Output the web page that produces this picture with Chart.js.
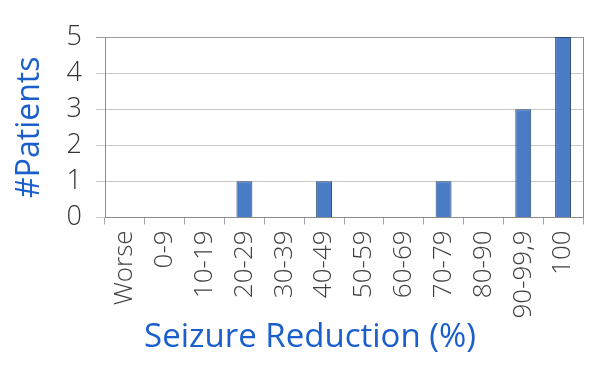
<!DOCTYPE html>
<html>
<head>
<meta charset="utf-8">
<script src="https://cdn.jsdelivr.net/npm/chart.js@4.4.1/dist/chart.umd.min.js"></script>
<style>
  html, body { margin: 0; padding: 0; background: #fff; }
  canvas { display: block; }
</style>
</head>
<body>
<canvas id="chart" width="614" height="372"></canvas>
<script>
const categories = ["Worse", "0-9", "10-19", "20-29", "30-39", "40-49", "50-59", "60-69", "70-79", "80-90", "90-99,9", "100"];
const patients = [0, 0, 0, 1, 0, 1, 0, 0, 1, 0, 3, 5];
const yTicks = [0, 1, 2, 3, 4, 5];

const blue = "#1a5fcc";
const font = "'Open Sans', 'DejaVu Sans', sans-serif";

new Chart(document.getElementById("chart"), {
    type: "bar",
    data: {
        labels: categories,
        datasets: [{
            label: "#Patients",
            data: patients,
            backgroundColor: "#4a7cc6",
            borderColor: "#2f4a72",
            borderWidth: 1,
            barPercentage: 0.4,
            categoryPercentage: 1
        }]
    },
    options: {
        responsive: false,
        animation: false,
        layout: { padding: { top: 37, right: 0, left: 6, bottom: 0 } },
        plugins: {
            legend: { display: false },
            tooltip: { enabled: false },
            title: {
                display: true,
                position: "bottom",
                text: "Seizure Reduction (%)",
                color: blue,
                font: { family: font, size: 33, weight: "normal" },
                padding: { top: 0, bottom: 15 }
            }
        },
        scales: {
            x: {
                afterFit: s => { s.height = 100; },
                grid: {
                    offset: true,
                    drawOnChartArea: false,
                    tickLength: 7,
                    color: "#a6a6a6"
                },
                border: { color: "#8c8c8c" },
                ticks: {
                    autoSkip: false,
                    minRotation: 90,
                    maxRotation: 90,
                    padding: 6,
                    color: "#404040",
                    font: { family: font, size: 26, weight: 300 }
                }
            },
            y: {
                min: yTicks[0],
                max: yTicks[yTicks.length - 1],
                afterFit: s => { s.width = 99; },
                afterBuildTicks: s => { s.ticks = yTicks.map(v => ({ value: v })); },
                grid: {
                    tickLength: 9,
                    color: c => c.tick && c.tick.value === 5 ? "#9a9a9a" : "#c8c8c8"
                },
                border: { color: "#8c8c8c" },
                ticks: {
                    padding: 14,
                    color: "#333333",
                    font: { family: font, size: 27, weight: 300 }
                },
                title: {
                    display: true,
                    text: "#Patients",
                    color: blue,
                    font: { family: font, size: 32, weight: "normal" },
                    padding: { top: 5, bottom: 0 }
                }
            },
            y2: {
                position: "right",
                min: 0,
                max: 5,
                afterFit: s => { s.width = 31; },
                grid: { drawOnChartArea: false, drawTicks: false },
                border: { color: "#8c8c8c" },
                ticks: { display: false }
            }
        }
    }
});
</script>
</body>
</html>
